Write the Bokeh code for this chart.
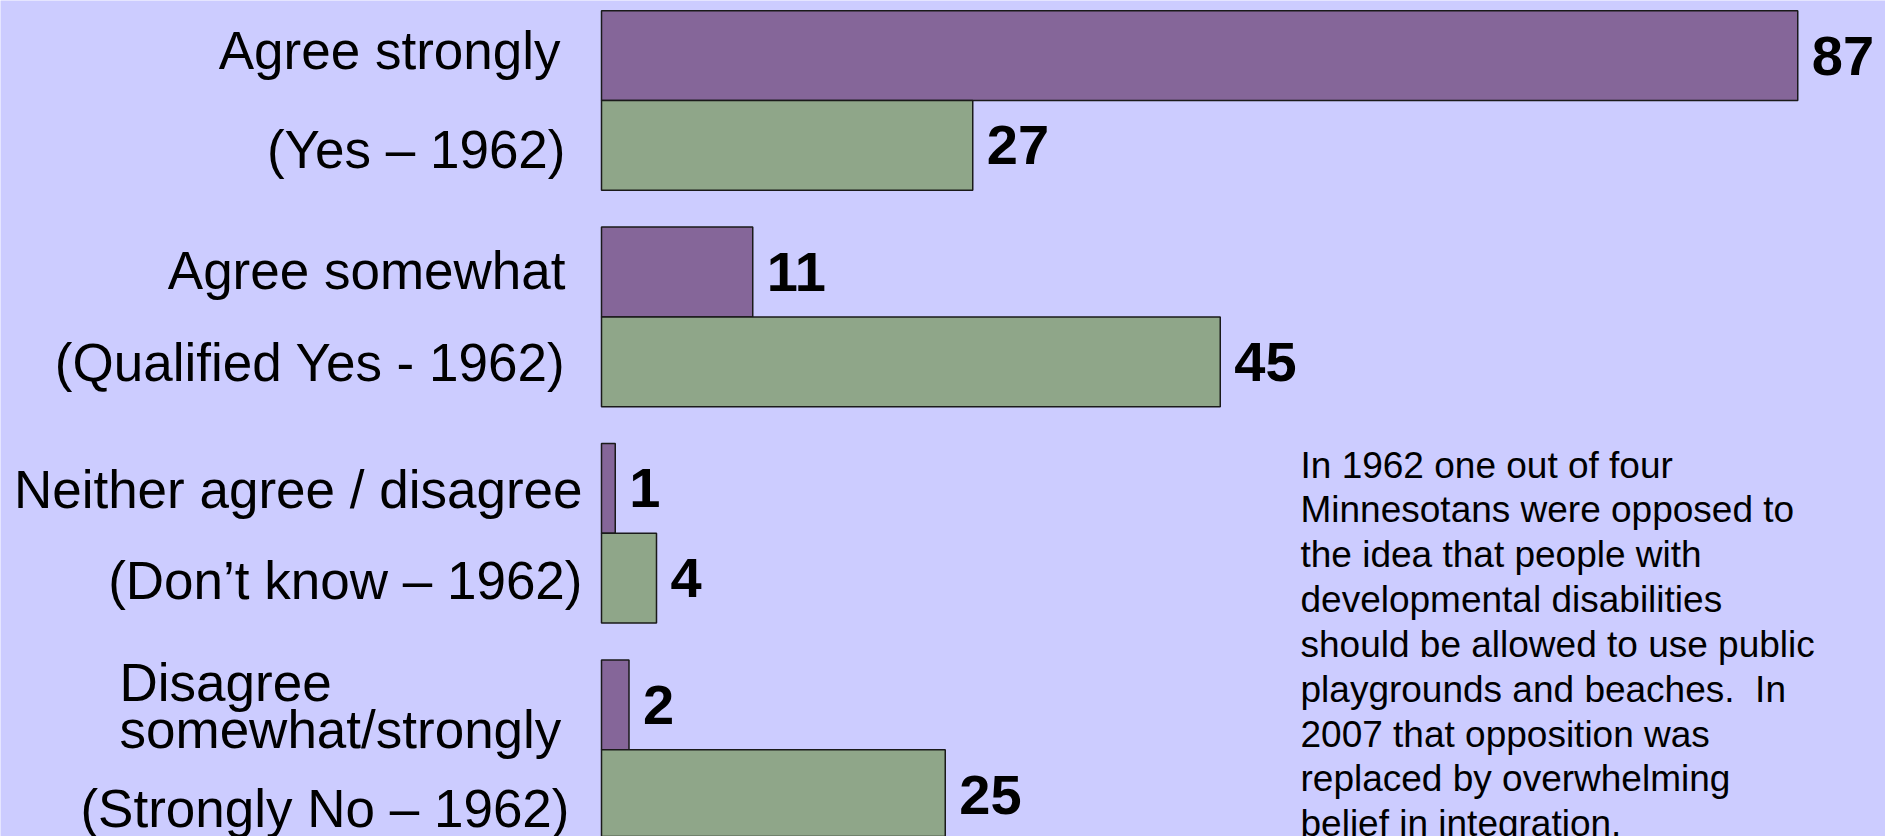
from bokeh.plotting import figure
from bokeh.models import ColumnDataSource, Range1d, Label
from bokeh.core.properties import value
from bokeh.embed import file_html
from bokeh.resources import INLINE

# ---- data ----
labels_2007 = ["Agree strongly", "Agree somewhat", "Neither agree / disagree",
               "Disagree\nsomewhat/strongly"]
labels_1962 = ["(Yes \u2013 1962)", "(Qualified Yes - 1962)", "(Don\u2019t know \u2013 1962)",
               "(Strongly No \u2013 1962)"]
values_2007 = [87, 11, 1, 2]
values_1962 = [27, 45, 4, 25]
note = ("In 1962 one out of four\n"
        "Minnesotans were opposed to\n"
        "the idea that people with\n"
        "developmental disabilities\n"
        "should be allowed to use public\n"
        "playgrounds and beaches.\u00a0 In\n"
        "2007 that opposition was\n"
        "replaced by overwhelming\n"
        "belief in integration.")

# ---- layout / style ----
W, H = 1885, 836
PX_PER_UNIT = 13.75
BASE_PX = 601            # screen x of the bar baseline
GROUP_PX = 216.4         # vertical distance between groups
FIRST_PX = 100           # screen y of first group's split line
HALF = 0.415             # bar thickness in group units

BG = "#CCCCFF"
PURPLE = "#856699"
GREEN = "#8FA689"

p = figure(width=W, height=H, output_backend="svg", toolbar_location=None,
           x_range=Range1d(-BASE_PX / PX_PER_UNIT, (W - BASE_PX) / PX_PER_UNIT),
           y_range=Range1d((H - FIRST_PX) / GROUP_PX, -FIRST_PX / GROUP_PX),
           min_border=0, background_fill_color=BG, border_fill_color=BG,
           outline_line_color=None)
p.axis.visible = False
p.grid.visible = False

idx = list(range(len(values_2007)))
src = ColumnDataSource(dict(
    i=idx,
    v07=values_2007, v62=values_1962,
    c07=[i - HALF / 2 for i in idx], c62=[i + HALF / 2 for i in idx],
    t07=[str(v) for v in values_2007], t62=[str(v) for v in values_1962],
    l07=labels_2007, l62=labels_1962,
    a07=["right", "right", "right", "left"],
    o07=[-41, -36, -19, -482],
    o62=[-36, -36, -19, -32],
    y07=[-5, -1, 1, 1],
    y62=[4, 1, 2, 14],
))

p.hbar(y="c07", right="v07", left=0, height=HALF, source=src,
       fill_color=PURPLE, line_color="#1a1a1a", line_width=1.5)
p.hbar(y="c62", right="v62", left=0, height=HALF, source=src,
       fill_color=GREEN, line_color="#1a1a1a", line_width=1.5)

num_font = value("Liberation Sans")
for v, c, t in (("v07", "c07", "t07"), ("v62", "c62", "t62")):
    p.text(x=v, y=c, text=t, source=src, x_offset=14, y_offset=0,
           text_font=num_font, text_font_style="bold", text_font_size="56px",
           text_align="left", text_baseline="middle", text_color="black")

p.text(x=0, y="c07", text="l07", source=src, x_offset="o07", y_offset="y07",
       text_font=value("Liberation Sans"), text_font_size="53px",
       text_align="a07", text_baseline="middle", text_color="black",
       text_line_height=0.8)
p.text(x=0, y="c62", text="l62", source=src, x_offset="o62", y_offset="y62",
       text_font=value("Liberation Sans"), text_font_size="53px",
       text_align="right", text_baseline="middle", text_color="black")

p.add_layout(Label(x=1300, y=H - 444, x_units="screen", y_units="screen",
                   text=note, text_font="Liberation Sans", text_font_size="37px",
                   text_align="left", text_baseline="top", text_color="black",
                   text_line_height=1.094))

open("out.html", "w").write(file_html(p, INLINE))
